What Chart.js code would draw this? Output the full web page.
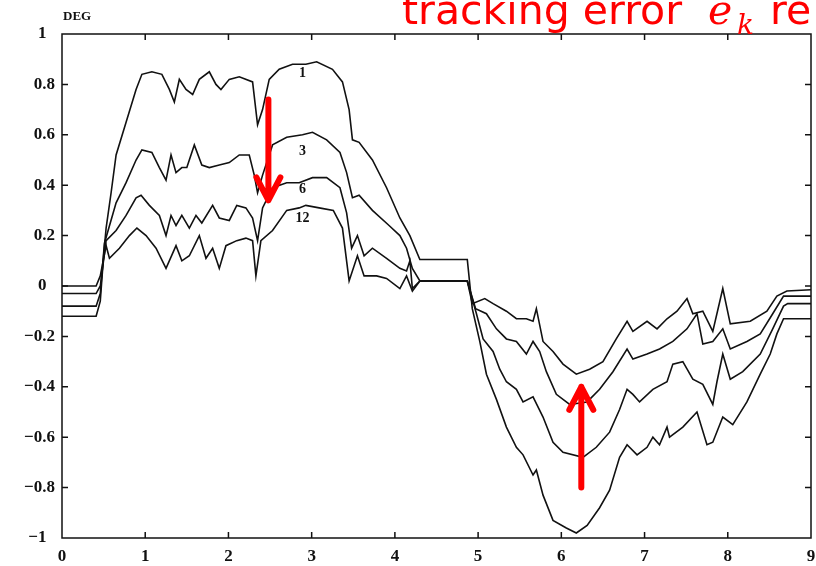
<!DOCTYPE html>
<html>
<head>
<meta charset="utf-8">
<script src="https://cdn.jsdelivr.net/npm/chart.js@4.4.1/dist/chart.umd.min.js"></script>
<style>
  html, body { margin: 0; padding: 0; background: #fff; }
  #wrap { width: 816px; height: 566px; }
</style>
</head>
<body>
<div id="wrap"><canvas id="myChart" width="816" height="566"></canvas></div>
<script>
// iteration numbers written on the curves
var seriesNames = ["1", "3", "6", "12"];

// iteration 1
var x1 = [0, 0.41, 0.46, 0.50, 0.53, 0.59, 0.65, 0.77, 0.89, 0.96, 1.08, 1.20, 1.29, 1.35, 1.41, 1.49, 1.57, 1.65, 1.77, 1.85, 1.91, 2.01, 2.13, 2.29, 2.35, 2.41, 2.49, 2.61, 2.77, 2.93, 3.06, 3.25, 3.37, 3.45, 3.49, 3.57, 3.73, 3.90, 4.06, 4.18, 4.30, 4.87, 4.93, 5.02, 5.10, 5.22, 5.34, 5.46, 5.54, 5.66, 5.70, 5.78, 5.90, 6.06, 6.18, 6.31, 6.46, 6.58, 6.70, 6.79, 6.91, 7.03, 7.10, 7.18, 7.27, 7.30, 7.46, 7.63, 7.75, 7.82, 7.94, 8.06, 8.23, 8.39, 8.51, 8.59, 8.67, 8.72, 9.0];
var y1 = [-0.12, -0.12, -0.06, 0.12, 0.23, 0.37, 0.52, 0.65, 0.78, 0.84, 0.85, 0.84, 0.78, 0.73, 0.82, 0.78, 0.76, 0.82, 0.85, 0.80, 0.78, 0.82, 0.83, 0.81, 0.64, 0.70, 0.82, 0.86, 0.88, 0.88, 0.89, 0.86, 0.81, 0.70, 0.58, 0.57, 0.50, 0.39, 0.27, 0.20, 0.105, 0.105, -0.09, -0.22, -0.35, -0.45, -0.56, -0.64, -0.67, -0.75, -0.73, -0.83, -0.93, -0.96, -0.98, -0.95, -0.88, -0.81, -0.68, -0.63, -0.67, -0.64, -0.60, -0.63, -0.56, -0.60, -0.56, -0.50, -0.63, -0.62, -0.52, -0.55, -0.46, -0.35, -0.27, -0.19, -0.13, -0.13, -0.13];

// iteration 3
var x3 = [0, 0.41, 0.46, 0.51, 0.65, 0.77, 0.89, 0.96, 1.08, 1.17, 1.25, 1.31, 1.37, 1.44, 1.50, 1.59, 1.68, 1.77, 1.89, 2.01, 2.13, 2.25, 2.31, 2.35, 2.41, 2.53, 2.70, 2.89, 3.01, 3.18, 3.34, 3.42, 3.49, 3.57, 3.73, 3.93, 4.06, 4.14, 4.21, 4.30, 4.87, 4.98, 5.06, 5.18, 5.26, 5.34, 5.46, 5.54, 5.66, 5.78, 5.90, 6.02, 6.26, 6.42, 6.58, 6.70, 6.79, 6.86, 6.94, 7.10, 7.27, 7.34, 7.46, 7.58, 7.70, 7.82, 7.87, 7.94, 8.03, 8.18, 8.39, 8.54, 8.67, 8.72, 9.0];
var y3 = [-0.08, -0.08, -0.03, 0.17, 0.33, 0.41, 0.50, 0.54, 0.53, 0.47, 0.42, 0.52, 0.45, 0.47, 0.47, 0.56, 0.48, 0.47, 0.48, 0.49, 0.52, 0.52, 0.44, 0.37, 0.44, 0.56, 0.59, 0.60, 0.61, 0.58, 0.53, 0.45, 0.35, 0.36, 0.30, 0.24, 0.20, 0.15, 0.07, 0.02, 0.02, -0.11, -0.21, -0.26, -0.33, -0.38, -0.41, -0.46, -0.44, -0.52, -0.62, -0.66, -0.68, -0.64, -0.58, -0.49, -0.41, -0.43, -0.46, -0.41, -0.38, -0.31, -0.30, -0.37, -0.39, -0.47, -0.38, -0.27, -0.37, -0.34, -0.27, -0.17, -0.08, -0.07, -0.07];

// iteration 6
var x6 = [0, 0.41, 0.46, 0.53, 0.65, 0.77, 0.89, 0.95, 1.05, 1.17, 1.25, 1.31, 1.37, 1.44, 1.53, 1.61, 1.68, 1.81, 1.89, 2.01, 2.10, 2.21, 2.29, 2.35, 2.41, 2.53, 2.70, 2.85, 3.01, 3.18, 3.34, 3.42, 3.48, 3.55, 3.63, 3.73, 3.90, 4.06, 4.14, 4.18, 4.21, 4.30, 4.87, 4.97, 5.10, 5.22, 5.34, 5.46, 5.58, 5.66, 5.74, 5.82, 5.94, 6.10, 6.31, 6.46, 6.62, 6.79, 6.86, 7.03, 7.18, 7.34, 7.51, 7.63, 7.70, 7.82, 7.94, 8.03, 8.23, 8.39, 8.54, 8.67, 8.72, 9.0];
var y6 = [-0.03, -0.03, 0.0, 0.18, 0.22, 0.28, 0.35, 0.36, 0.32, 0.28, 0.20, 0.28, 0.24, 0.28, 0.23, 0.28, 0.25, 0.32, 0.27, 0.26, 0.32, 0.31, 0.27, 0.18, 0.31, 0.39, 0.41, 0.41, 0.43, 0.43, 0.39, 0.29, 0.15, 0.20, 0.12, 0.15, 0.11, 0.07, 0.06, 0.10, -0.01, 0.02, 0.02, -0.09, -0.11, -0.17, -0.21, -0.22, -0.27, -0.22, -0.26, -0.34, -0.43, -0.47, -0.46, -0.41, -0.34, -0.25, -0.29, -0.27, -0.25, -0.22, -0.17, -0.11, -0.23, -0.22, -0.17, -0.25, -0.22, -0.19, -0.11, -0.04, -0.04, -0.04];

// iteration 12
var x12 = [0, 0.41, 0.46, 0.53, 0.57, 0.69, 0.81, 0.90, 1.01, 1.13, 1.25, 1.37, 1.44, 1.53, 1.65, 1.73, 1.81, 1.89, 1.97, 2.10, 2.21, 2.29, 2.33, 2.39, 2.53, 2.70, 2.85, 2.93, 3.09, 3.26, 3.37, 3.45, 3.55, 3.63, 3.78, 3.90, 4.06, 4.14, 4.21, 4.30, 4.87, 4.93, 5.08, 5.18, 5.34, 5.46, 5.58, 5.66, 5.70, 5.78, 5.90, 6.02, 6.18, 6.34, 6.50, 6.66, 6.79, 6.86, 7.03, 7.15, 7.27, 7.39, 7.51, 7.58, 7.70, 7.82, 7.94, 8.03, 8.27, 8.47, 8.59, 8.71, 9.0];
var y12 = [0.0, 0.0, 0.04, 0.16, 0.11, 0.15, 0.20, 0.23, 0.20, 0.15, 0.07, 0.16, 0.10, 0.12, 0.20, 0.11, 0.15, 0.07, 0.16, 0.18, 0.19, 0.18, 0.04, 0.18, 0.22, 0.30, 0.31, 0.32, 0.31, 0.30, 0.23, 0.02, 0.12, 0.04, 0.04, 0.03, -0.01, 0.04, -0.02, 0.02, 0.02, -0.07, -0.05, -0.07, -0.10, -0.13, -0.13, -0.14, -0.09, -0.22, -0.26, -0.31, -0.35, -0.33, -0.30, -0.21, -0.14, -0.18, -0.14, -0.17, -0.13, -0.10, -0.05, -0.11, -0.10, -0.18, -0.01, -0.15, -0.14, -0.10, -0.04, -0.02, -0.015];

var xTicks = [0, 1, 2, 3, 4, 5, 6, 7, 8, 9];
var yTicks = [1, 0.8, 0.6, 0.4, 0.2, 0, -0.2, -0.4, -0.6, -0.8, -1];

function zip(xs, ys) {
  return xs.map(function (x, i) { return { x: x, y: ys[i] }; });
}

var allX = [x1, x3, x6, x12];
var allY = [y1, y3, y6, y12];

var tickFont = { family: "'Liberation Serif', 'DejaVu Serif', serif", size: 17, weight: "bold" };

// frame, inward ticks, curve numbers, arrows and title
var decor = {
  id: "decor",
  afterDraw: function (chart) {
    var c = chart.ctx;
    var a = chart.chartArea;
    var sx = chart.scales.x, sy = chart.scales.y;
    c.save();
    c.strokeStyle = "#111";
    c.lineWidth = 1.5;
    c.strokeRect(a.left, a.top, a.right - a.left, a.bottom - a.top);
    c.beginPath();
    xTicks.slice(1, -1).forEach(function (v) {
      var p = sx.getPixelForValue(v);
      c.moveTo(p, a.bottom); c.lineTo(p, a.bottom - 6);
      c.moveTo(p, a.top); c.lineTo(p, a.top + 6);
    });
    yTicks.slice(1, -1).forEach(function (v) {
      var p = sy.getPixelForValue(v);
      c.moveTo(a.left, p); c.lineTo(a.left + 6, p);
      c.moveTo(a.right, p); c.lineTo(a.right - 6, p);
    });
    c.stroke();

    // DEG
    c.fillStyle = "#111";
    c.font = "bold 13px 'Liberation Serif', serif";
    c.textBaseline = "alphabetic";
    c.fillText("DEG", a.left + 1, 20);

    // curve numbers
    var labelY = [0.845, 0.535, 0.385, 0.27];
    c.font = "bold 14px 'Liberation Serif', serif";
    c.textAlign = "center";
    c.textBaseline = "middle";
    seriesNames.forEach(function (n, i) {
      c.fillText(n, sx.getPixelForValue(2.89), sy.getPixelForValue(labelY[i]));
    });

    // red arrows
    c.strokeStyle = "#ff0000";
    c.lineWidth = 6;
    c.lineCap = "round";
    c.lineJoin = "round";
    function arrow(xv, yFrom, yTo) {
      var px = sx.getPixelForValue(xv);
      var p0 = sy.getPixelForValue(yFrom), p1 = sy.getPixelForValue(yTo);
      var dir = p1 > p0 ? 1 : -1;
      c.beginPath();
      c.moveTo(px, p0); c.lineTo(px, p1);
      c.moveTo(px - 12, p1 - dir * 23); c.lineTo(px, p1); c.lineTo(px + 12, p1 - dir * 23);
      c.stroke();
    }
    arrow(2.48, 0.74, 0.34);
    arrow(6.24, -0.80, -0.40);

    // title fragment
    c.fillStyle = "#ff0000";
    c.textAlign = "left";
    c.textBaseline = "alphabetic";
    c.font = "41px 'DejaVu Sans', sans-serif";
    c.fillText("tracking error", 402, 24);
    c.font = "italic 41px 'DejaVu Serif', serif";
    c.fillText("e", 708, 24);
    c.font = "italic 28px 'DejaVu Serif', serif";
    c.fillText("k", 737, 34);
    c.font = "41px 'DejaVu Sans', sans-serif";
    c.fillText("re", 770, 24);
    c.restore();
  }
};

var ctx = document.getElementById("myChart").getContext("2d");
var myChart = new Chart(ctx, {
  type: "line",
  data: {
    datasets: seriesNames.map(function (n, i) {
      return {
        label: n,
        data: zip(allX[i], allY[i]),
        borderColor: "#111",
        borderWidth: 1.6,
        pointRadius: 0,
        tension: 0,
        fill: false,
      };
    }),
  },
  options: {
    responsive: false,
    animation: false,
    layout: { padding: { top: 34, right: 5, left: 0, bottom: 0 } },
    plugins: {
      legend: { display: false },
      tooltip: { enabled: false },
    },
    scales: {
      x: {
        type: "linear",
        min: 0,
        max: 9,
        grid: { display: false },
        border: { display: false },
        afterFit: function (s) { s.height = 28; },
        afterBuildTicks: function (s) { s.ticks = xTicks.map(function (v) { return { value: v }; }); },
        ticks: { color: "#111", font: tickFont, padding: 0, maxRotation: 0 },
      },
      y: {
        type: "linear",
        min: -1,
        max: 1,
        grid: { display: false },
        border: { display: false },
        afterFit: function (s) { s.width = 62; },
        afterBuildTicks: function (s) { s.ticks = yTicks.map(function (v) { return { value: v }; }); },
        ticks: {
          color: "#111",
          font: tickFont,
          padding: -1,
          callback: function (v) {
            var t = v < 0 ? "\u2212" + String(Math.abs(v)) : String(v);
            return Number.isInteger(v) ? t + "\u2002" : t;
          },
        },
      },
    },
  },
  plugins: [decor],
});
</script>
</body>
</html>
